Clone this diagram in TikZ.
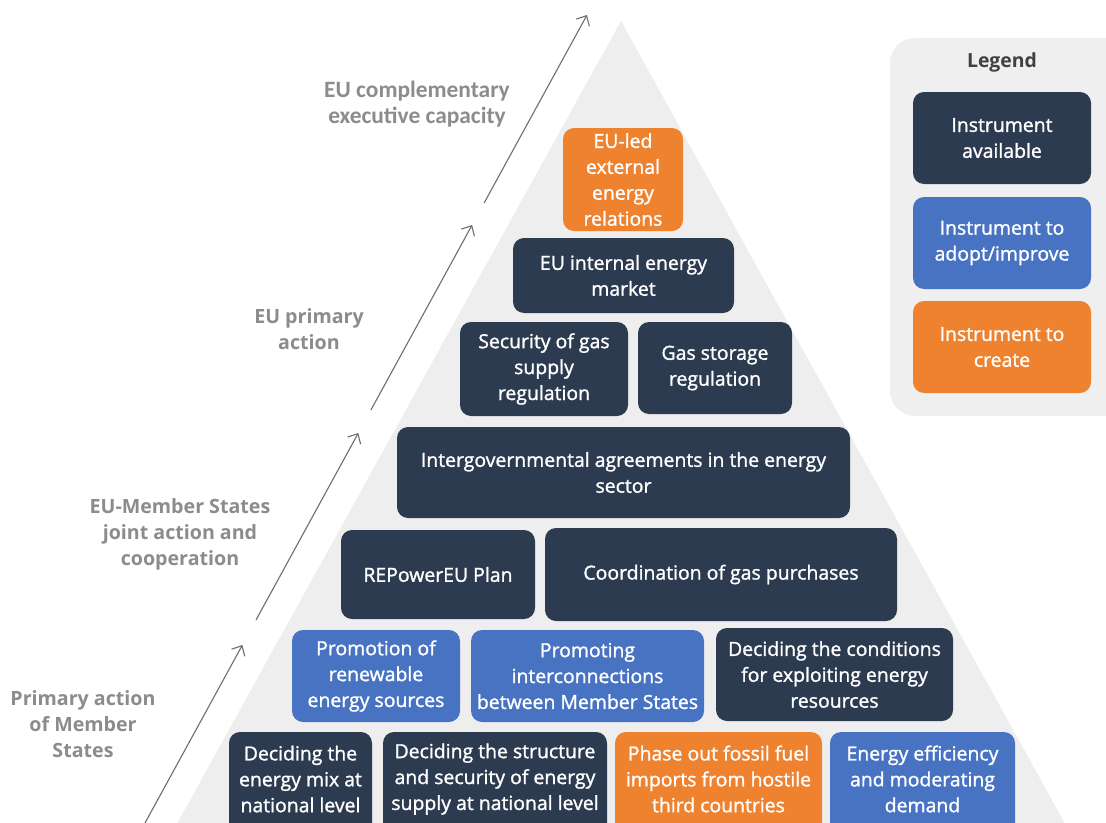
\documentclass[tikz,border=0pt]{standalone}
\usepackage{fontspec}
\setmainfont{Open Sans}
\newfontfamily\boxfontface{Open Sans}[FakeBold=1.3]
\newfontfamily\lblfontface{Open Sans}
\newfontfamily\calfontface{Carlito}
\usetikzlibrary{arrows.meta}
\definecolor{navy}{HTML}{2D3B51}
\definecolor{blueb}{HTML}{4873C3}
\definecolor{orangeb}{HTML}{EE822F}
\definecolor{pyrgray}{HTML}{EEEEEE}
\definecolor{leggray}{HTML}{EFEFEF}
\definecolor{lblgray}{HTML}{8C8C8C}
\definecolor{arrgray}{HTML}{6E6E6E}
\definecolor{legtitle}{HTML}{404040}
\tikzset{
  box/.style={rounded corners=11bp, inner sep=0pt, align=center, text=white,
    font=\boxfontface\fontsize{19.5}{26}\selectfont},
  boxtext/.style={inner sep=0pt, align=center, text=white,
    font=\boxfontface\fontsize{19.5}{26}\selectfont},
  lbl/.style={inner sep=0pt, align=center, text=lblgray,
    font=\lblfontface\bfseries\fontsize{19.7}{26}\selectfont},
  callbl/.style={inner sep=0pt, align=center, text=lblgray,
    font=\calfontface\bfseries\fontsize{23.5}{26}\selectfont},
  arrline/.style={draw=arrgray, line width=1.1bp, -{Straight Barb[length=8bp,width=15bp]}},
}
\newcommand\mybox[7]{\node[box, fill=#6, minimum width={(#4-#2)*1bp}, minimum height={(#5-#3)*1bp}] (#1) at ({(#2+#4)/2},{(#3+#5)/2}) {#7};}
\newcommand\mybot[5]{%
  \fill[#4, rounded corners=11bp] (#2,850) -- (#2,732) -- (#3,732) -- (#3,850) -- cycle;
  \node[boxtext] (#1) at ({(#2+#3)/2},779) {#5};}
\begin{document}
\begin{tikzpicture}[x=1bp, y=-1bp]
\useasboundingbox (0,0) rectangle (1106,823);
\clip (0,0) rectangle (1106,823);
\fill[white] (0,0) rectangle (1106,823);
% pyramid
\fill[pyrgray] (621,21) -- (1074,840) -- (168,840) -- cycle;
% arrows
\coordinate (a0) at (135.7,840);
\coordinate (t1) at (242.4,645);
\coordinate (s2) at (256.0,620);
\coordinate (t2) at (358.3,433);
\coordinate (s3) at (370.9,410);
\coordinate (t3) at (472.1,225);
\coordinate (s4) at (484.1,203);
\coordinate (t4) at (587,15);
\draw[arrline] (a0) -- (t1);
\draw[arrline] (s2) -- (t2);
\draw[arrline] (s3) -- (t3);
\draw[arrline] (s4) -- (t4);
% side labels
\node[callbl] (l4) at (417,104) {EU complementary\\executive capacity};
\node[lbl] (l3) at (309,329) {EU primary\\action};
\node[lbl] (l2) at (180,534) {EU-Member States\\joint action and\\cooperation};
\node[lbl] (l1) at (83,724) {Primary action\\of Member\\States};
% pyramid boxes
\mybox{lead}{563}{128}{683}{231}{orangeb}{EU-led\\external\\energy\\relations}
\mybox{intl}{513}{238}{734}{313}{navy}{EU internal energy\\market}
\mybox{secgas}{460}{322}{628}{416}{navy}{Security of gas\\supply\\regulation}
\mybox{storage}{638}{322}{792}{414}{navy}{Gas storage\\regulation}
\mybox{igov}{397}{427}{850}{518}{navy}{Intergovernmental agreements in the energy\\sector}
\mybox{repower}{341}{530}{535}{619}{navy}{REPowerEU Plan}
\mybox{coord}{545}{528}{897}{621}{navy}{Coordination of gas purchases}
\mybox{renew}{292}{630}{460}{722}{blueb}{Promotion of\\renewable\\energy sources}
\mybox{interc}{471}{630}{704}{722}{blueb}{Promoting\\interconnections\\between Member States}
\mybox{cond}{716}{628}{953}{721}{navy}{Deciding the conditions\\for exploiting energy\\resources}
\mybot{mix}{229}{372}{navy}{Deciding the\\energy mix at\\national level}
\mybot{struct}{383}{607}{navy}{Deciding the structure\\and security of energy\\supply at national level}
\mybot{phase}{615}{822}{orangeb}{Phase out fossil fuel\\imports from hostile\\third countries}
\mybot{eff}{830}{1015}{blueb}{Energy efficiency\\and moderating\\demand}
% legend
\fill[leggray, rounded corners=25bp] (890,38) rectangle (1130,416);
\node[inner sep=0pt, text=legtitle, font=\lblfontface\bfseries\fontsize{19.5}{22}\selectfont] (legtitle) at (1002,62) {Legend};
\mybox{avail}{913}{92}{1091}{184}{navy}{Instrument\\available}
\mybox{adopt}{913}{197}{1091}{289}{blueb}{Instrument to\\adopt/improve}
\mybox{create}{913}{301}{1091}{393}{orangeb}{Instrument to\\create}
\end{tikzpicture}
\end{document}
